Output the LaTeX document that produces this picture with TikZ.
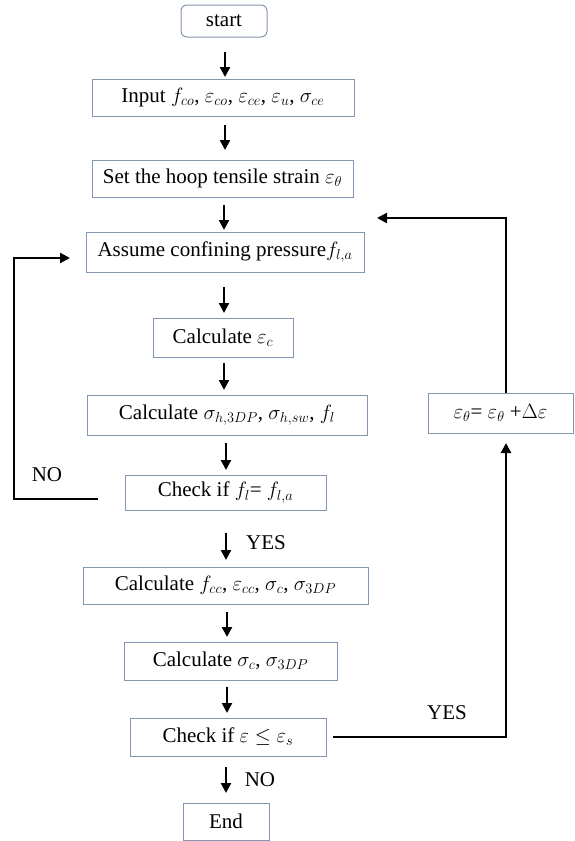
\documentclass[tikz,border=0pt]{standalone}
\usepackage{fontspec}
\setmainfont{Liberation Serif}
\usetikzlibrary{arrows.meta}
\definecolor{boxc}{HTML}{8496B0}
\begin{document}
\begin{tikzpicture}[x=1pt,y=-1pt,
  box/.style={draw=boxc,line width=1pt,inner sep=0pt,align=center,font=\fontsize{21}{25}\selectfont},
  arr/.style={line width=2.2pt,-{Triangle[length=10pt,width=10pt]}},
  lbl/.style={font=\fontsize{21}{25}\selectfont}]
\useasboundingbox (0,0) rectangle (575,841);
\node[box,rounded corners=6pt,minimum width=86pt,minimum height=32pt] (start) at (224,21) {start};
\node[box,minimum width=262pt,minimum height=37pt] (input) at (223,97.5) {Input $f_{co}$, $\varepsilon_{co}$, $\varepsilon_{ce}$, $\varepsilon_{u}$, $\sigma_{ce}$};
\node[box,minimum width=261pt,minimum height=37pt] (set) at (222.5,178.5) {Set the hoop tensile strain $\varepsilon_\theta$};
\node[box,minimum width=278pt,minimum height=40pt] (assume) at (225,252) {Assume confining pressure$f_{l,a}$};
\node[box,minimum width=140pt,minimum height=39pt] (calce) at (223,337.5) {Calculate $\varepsilon_c$};
\node[box,minimum width=280pt,minimum height=40pt] (calch) at (227,415) {Calculate $\sigma_{h,3DP}$, $\sigma_{h,sw}$, $f_l$};
\node[box,minimum width=201pt,minimum height=35pt] (checkf) at (225.5,492.5) {Check if $f_l$= $f_{l,a}$};
\node[box,minimum width=285pt,minimum height=37pt] (calcf) at (225.5,585.5) {Calculate $f_{cc}$, $\varepsilon_{cc}$, $\sigma_c$, $\sigma_{3DP}$};
\node[box,minimum width=213pt,minimum height=38pt] (calcs) at (230.5,661) {Calculate $\sigma_c$, $\sigma_{3DP}$};
\node[box,minimum width=196pt,minimum height=38pt] (checke) at (228,737) {Check if $\varepsilon \le \varepsilon_s$};
\node[box,minimum width=86pt,minimum height=37pt] (end) at (226,821.5) {End};
\node[box,minimum width=145pt,minimum height=40pt] (inc) at (500.5,413) {$\varepsilon_\theta$= $\varepsilon_\theta$ +$\Delta\varepsilon$};
% main vertical arrows
\coordinate (a1s) at (225,52);  \coordinate (a1e) at (225,77);
\coordinate (a2s) at (225,125); \coordinate (a2e) at (225,150);
\coordinate (a3s) at (224,205); \coordinate (a3e) at (224,230);
\coordinate (a4s) at (224,287); \coordinate (a4e) at (224,313);
\coordinate (a5s) at (224,363); \coordinate (a5e) at (224,390);
\coordinate (a6s) at (226,443); \coordinate (a6e) at (226,470);
\coordinate (a7s) at (226,533); \coordinate (a7e) at (226,560);
\coordinate (a8s) at (227,612); \coordinate (a8e) at (227,637);
\coordinate (a9s) at (227,687); \coordinate (a9e) at (227,713);
\coordinate (a10s) at (226,767); \coordinate (a10e) at (226,793);
\foreach \i in {1,...,10} {\draw[arr] (a\i s) -- (a\i e);}
% left loop (NO)
\coordinate (nl1) at (98,499);
\coordinate (nl2) at (70,258);
\draw[arr] (nl1) -- (14,499) -- (14,258) -- (nl2);
\node[lbl] (no1) at (47,475) {NO};
\node[lbl] (yes1) at (266,543) {YES};
% right loop (YES)
\coordinate (yl1) at (333,737);
\coordinate (yl2) at (506,443);
\draw[arr] (yl1) -- (506,737) -- (yl2);
\node[lbl] (yes2) at (447,713) {YES};
\coordinate (rl1) at (506,393);
\coordinate (rl2) at (377,218);
\draw[arr] (rl1) -- (506,218) -- (rl2);
\node[lbl] (no2) at (260,780) {NO};
\end{tikzpicture}
\end{document}
